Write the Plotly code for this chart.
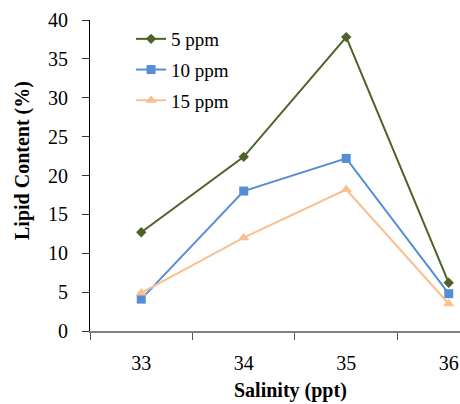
import plotly.graph_objects as go

salinity = ["33", "34", "35", "36"]
ppm5 = [12.7, 22.4, 37.8, 6.2]
ppm10 = [4.1, 18.0, 22.2, 4.8]
ppm15 = [4.9, 12.0, 18.2, 3.5]
y_ticks = [0, 5, 10, 15, 20, 25, 30, 35, 40]

FONT = "Liberation Serif"

fig = go.Figure()
series = [
    ("5 ppm", ppm5, "#4F6228", "diamond", 8),
    ("10 ppm", ppm10, "#558ED5", "square", 9),
    ("15 ppm", ppm15, "#FAC090", "triangle-up", 10),
]
for name, vals, col, sym, sz in series:
    fig.add_trace(go.Scatter(
        x=salinity, y=vals, name=name, mode="lines+markers",
        line=dict(color=col, width=2),
        marker=dict(symbol=sym, size=sz, color=col),
        legendgroup=name,
    ))

PW, PH = 370, 311
fig.update_layout(
    width=460, height=404,
    margin=dict(l=90, r=0, t=20, b=73, autoexpand=False),
    paper_bgcolor="white", plot_bgcolor="white",
    font=dict(family=FONT, size=19, color="black"),
    showlegend=True,
    legend=dict(
        x=0.111, y=1.0, xanchor="left", yanchor="top",
        bgcolor="rgba(0,0,0,0)",
        font=dict(family=FONT, size=19, color="black"),
        tracegroupgap=3, traceorder="grouped",
    ),
)
fig.update_xaxes(
    type="category", range=[-0.5, 3.11],
    showline=True, linecolor="#808080", linewidth=1.5,
    showgrid=False, zeroline=False,
    ticks="outside", tickson="boundaries", ticklen=7, tickcolor="#555",
    tickfont=dict(family=FONT, size=20), ticklabelstandoff=13,
)
fig.update_yaxes(
    range=[0, 40], tickvals=y_ticks,
    showline=True, linecolor="black", linewidth=1.2,
    showgrid=False, zeroline=False,
    ticks="outside", ticklen=7, tickcolor="#333",
    tickfont=dict(family=FONT, size=20), ticklabelstandoff=10,
)
fig.add_annotation(
    text="<b>Lipid Content (%)</b>", xref="paper", yref="paper",
    x=(22 - 90) / PW, y=(331 - 161) / PH, xanchor="center", yanchor="middle",
    textangle=-90, showarrow=False, font=dict(family=FONT, size=20),
)
fig.add_annotation(
    text="<b>Salinity (ppt)</b>", xref="paper", yref="paper",
    x=(290 - 90) / PW, y=-(390 - 331) / PH, xanchor="center", yanchor="middle",
    showarrow=False, font=dict(family=FONT, size=20),
)

fig.write_html(
    "out.html",
    config={"displayModeBar": False},
    post_script="document.body.style.margin='0';document.documentElement.style.overflow='hidden';",
)
